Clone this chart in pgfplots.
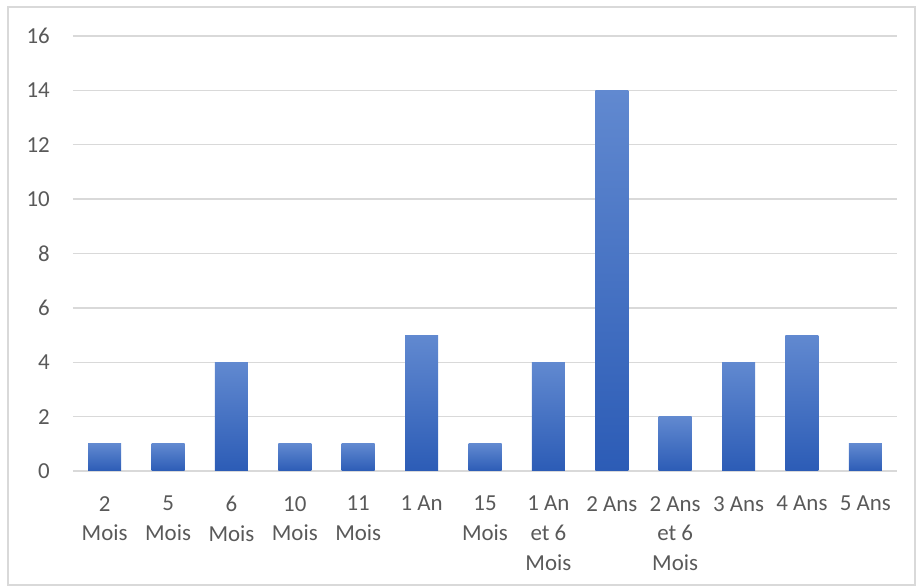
\documentclass[border=0pt]{standalone}
\usepackage{fontspec}
\setmainfont{Carlito}
\usepackage{pgfplots}
\pgfplotsset{compat=1.18}
\definecolor{barTop}{HTML}{6189D0}
\definecolor{barBot}{HTML}{2C5CB6}
\definecolor{gridc}{HTML}{D9D9D9}
\definecolor{txt}{HTML}{595959}

\pgfplotstableread{
idx value
0 1
1 1
2 4
3 1
4 1
5 5
6 1
7 4
8 14
9 2
10 4
11 5
12 1
}\durees

\begin{document}
\begin{tikzpicture}[x=1bp,y=1bp]
\useasboundingbox (-73,-116) rectangle (844,471);
\draw[gridc, line width=1.2bp] (-65,-114) rectangle (842,464);
\begin{axis}[
    at={(0,0)}, anchor=south west,
    scale only axis, width=824bp, height=435bp,
    ymin=0, ymax=16, xmin=-0.5, xmax=12.5,
    enlargelimits=false,
    ytick={0,2,...,16},
    xtick={0,...,12},
    xticklabels={{2\\Mois},{5\\Mois},{6\\Mois},{10\\Mois},{11\\Mois},{1 An},{15\\Mois},{1 An\\et 6\\Mois},{2 Ans},{2 Ans\\et 6\\Mois},{3 Ans},{4 Ans},{5 Ans}},
    axis line style={draw=none},
    major tick length=0pt,
    ymajorgrids,
    grid style={gridc, line width=1.3bp},
    /pgf/number format/assume math mode=true,
    tick label style={font=\fontsize{23}{30}\selectfont, text=txt, inner sep=0pt},
    yticklabel style={anchor=east, xshift=-23bp},
    xticklabel style={anchor=north, align=center, yshift=-25bp},
    ybar, bar width=33bp, bar shift=0pt,
]
% one plot per bar, so that each bar gets its own gradient
\pgfplotsinvokeforeach{0,...,12}{
  \addplot[draw=none, top color=barTop, bottom color=barBot,
    restrict x to domain=#1:#1] table[x=idx, y=value] {\durees};
}
\end{axis}
\end{tikzpicture}
\end{document}
